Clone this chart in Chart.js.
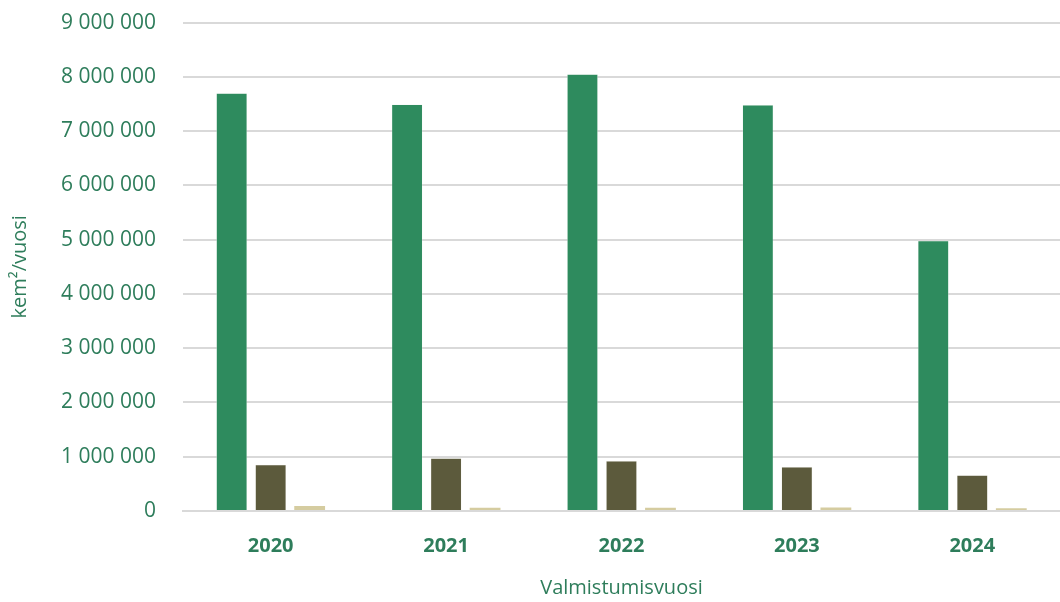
<!DOCTYPE html>
<html>
<head>
<meta charset="utf-8">
<script src="https://cdn.jsdelivr.net/npm/chart.js@4"></script>
<style>
  body { margin: 0; background: #fff; }
  #wrap { width: 1060px; height: 602px; overflow: hidden; position: relative; }
  #chart { position: absolute; left: 0; top: -17px; }
</style>
</head>
<body>
<div id="wrap"><canvas id="chart" width="1060" height="619"></canvas></div>
<script>
// Data
const years = ['2020', '2021', '2022', '2023', '2024'];
const seriesA = [7700000, 7490000, 8050000, 7480000, 4980000];
const seriesB = [850000, 970000, 920000, 810000, 660000];
const seriesC = [90000, 60000, 60000, 65000, 50000];
const yTicksMax = 9000000;

const textColor = '#2e7d5b';

function spaced(v) {
    return v.toString().replace(/\B(?=(\d{3})+(?!\d))/g, ' ');
}

const ctx = document.getElementById('chart').getContext('2d');
new Chart(ctx, {
    type: 'bar',
    data: {
        labels: years,
        datasets: [
            { data: seriesA, backgroundColor: '#2e8b5e', borderColor: '#e8f0ea', borderWidth: 0.5 },
            { data: seriesB, backgroundColor: '#5c5a3c', borderColor: '#e8e8e0', borderWidth: 0.5 },
            { data: seriesC, backgroundColor: '#d5cca0', borderWidth: 0 }
        ]
    },
    options: {
        responsive: false,
        animation: false,
        devicePixelRatio: 1,
        layout: { padding: { top: 0, right: 0, left: 8, bottom: 2 } },
        datasets: { bar: { categoryPercentage: 0.667, barPercentage: 0.79 } },
        plugins: {
            legend: { display: false },
            tooltip: { enabled: false }
        },
        scales: {
            x: {
                grid: { display: false },
                border: { color: '#d9d9d9', width: 2 },
                ticks: {
                    color: textColor,
                    font: { family: 'Open Sans', size: 20, weight: 'bold' },
                    padding: 15
                },
                title: {
                    display: true,
                    text: 'Valmistumisvuosi',
                    color: textColor,
                    font: { family: 'Open Sans', size: 20 },
                    padding: { top: 3, bottom: 0 }
                }
            },
            y: {
                min: 0,
                max: yTicksMax,
                grid: { color: '#d9d9d9', lineWidth: 2, drawTicks: false },
                border: { display: false },
                ticks: {
                    stepSize: 1000000,
                    color: textColor,
                    font: { family: 'Open Sans', size: 21 },
                    padding: 27,
                    callback: v => spaced(v)
                },
                title: {
                    display: true,
                    text: 'kem²/vuosi',
                    color: textColor,
                    font: { family: 'Open Sans', size: 20 },
                    padding: { top: 0, bottom: 2 }
                }
            }
        }
    }
});
</script>
</body>
</html>
